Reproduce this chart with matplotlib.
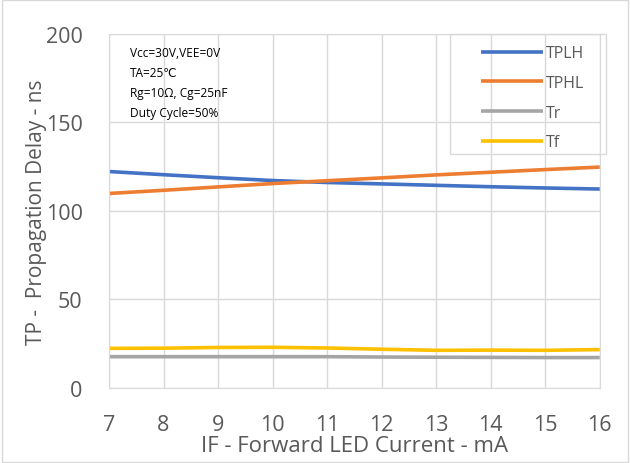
import numpy as np
import matplotlib.pyplot as plt
from matplotlib.patches import Rectangle

plt.rcParams['font.family'] = ['Open Sans', 'DejaVu Sans']

current = [7, 8, 9, 10, 11, 12, 13, 14, 15, 16]
tplh = [122.2, 120.4, 118.7, 117.1, 116.0, 115.2, 114.4, 113.6, 112.9, 112.3]
tphl = [109.8, 111.6, 113.5, 115.4, 117.0, 118.6, 120.3, 121.8, 123.3, 124.7]
tr = [17.6, 17.6, 17.6, 17.6, 17.6, 17.4, 17.3, 17.2, 17.1, 17.1]
tf = [22.3, 22.4, 22.8, 22.9, 22.5, 21.8, 21.2, 21.3, 21.2, 21.6]

series_names = ['TPLH', 'TPHL', 'Tr', 'Tf']
colors = ['#4472c4', '#ed7d31', '#a5a5a5', '#ffc000']
notes = ['Vcc=30V,VEE=0V', 'TA=25\u2103', 'Rg=10\u03a9, Cg=25nF', 'Duty Cycle=50%']

fig = plt.figure(figsize=(6.3, 4.64), dpi=100)
ax = fig.add_axes([0.173, 0.162, 0.779, 0.763])

for vals, name, c in zip([tplh, tphl, tr, tf], series_names, colors):
    ax.plot(current, vals, color=c, lw=2.6, label=name, solid_capstyle='butt')

ax.set_xlim(7, 16)
ax.set_ylim(0, 200)
ax.set_xticks(current)
ax.set_yticks([0, 50, 100, 150, 200])
ax.grid(True, color='#d9d9d9', lw=1)
ax.set_axisbelow(True)
for s in ax.spines.values():
    s.set_color('#d9d9d9')
ax.tick_params(length=0, labelsize=15.5, colors='#595959')
ax.tick_params(axis='x', pad=19)
ax.tick_params(axis='y', pad=19)
ax.set_xlabel('IF - Forward LED Current - mA', fontsize=16, color='#595959', labelpad=0)
ax.set_ylabel('TP -  Propagation Delay - ns', fontsize=15, color='#595959', labelpad=-1)

# legend without its own frame, box drawn separately (Excel-style wide box)
leg = ax.legend(loc='upper left', bbox_to_anchor=(0.745, 0.985), frameon=False,
                fontsize=11.5, handlelength=3.9, labelspacing=0.85, borderpad=0.4,
                handletextpad=0.15, borderaxespad=0)
for t in leg.get_texts():
    t.set_color('#595959')
ax.add_patch(Rectangle((0.6945, 0.661), 0.3175, 0.339, transform=ax.transAxes,
                       fill=False, edgecolor='#d9d9d9', lw=1, clip_on=False))

for i, n in enumerate(notes):
    ax.text(0.043, 0.966 - i * 0.0565, n, transform=ax.transAxes, fontsize=8.6,
            va='top', color='black')

fig.patches.append(Rectangle((0.003, 0.003), 0.994, 0.994, transform=fig.transFigure,
                             fill=False, edgecolor='#d9d9d9', lw=1))

fig.savefig('out.png')
